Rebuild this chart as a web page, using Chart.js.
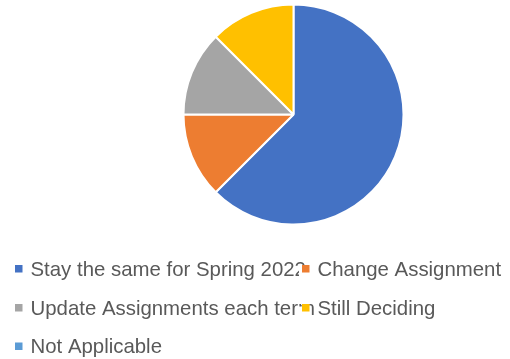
<!DOCTYPE html>
<html>
<head>
<meta charset="utf-8">
<script src="https://cdn.jsdelivr.net/npm/chart.js@4/dist/chart.umd.min.js"></script>
<style>
html,body{margin:0;padding:0;background:#fff;}
#wrap{position:relative;width:510px;height:359px;}
</style>
</head>
<body>
<div id="wrap"><canvas id="c" width="510" height="359"></canvas></div>
<script>
const categories = ["Stay the same for Spring 2022", "Change Assignment", "Update Assignments each term", "Still Deciding", "Not Applicable"];
const values = [5, 1, 1, 1, 0];
const colors = ["#4472C4", "#ED7D31", "#A5A5A5", "#FFC000", "#5B9BD5"];

const legendPlugin = {
  id: 'excelLegend',
  afterDraw(chart) {
    const ctx = chart.ctx;
    const labels = chart.data.labels;
    const cols = chart.data.datasets[0].backgroundColor;
    const colX = [15, 302];
    const textOff = 15.5;
    const rowY = [269, 308, 346.5];
    ctx.save();
    ctx.font = '20.4px "Liberation Sans", Arial, sans-serif';
    ctx.textBaseline = 'middle';
    labels.forEach((lab, i) => {
      const c = i % 2, r = Math.floor(i / 2);
      const bx = colX[c], by = rowY[r];
      if (c === 1) {
        ctx.fillStyle = '#fff';
        ctx.fillRect(bx - 3, by - 1.5, 12, 13);
      }
      ctx.fillStyle = cols[i];
      ctx.fillRect(bx, by - 4, 7.5, 7.5);
      ctx.fillStyle = '#595959';
      ctx.fillText(lab, bx + textOff, by + 1);
    });
    ctx.restore();
  }
};

new Chart(document.getElementById('c'), {
  type: 'pie',
  data: {
    labels: categories,
    datasets: [{
      data: values,
      backgroundColor: colors,
      borderColor: '#ffffff',
      borderWidth: 2,
      hoverOffset: 0
    }]
  },
  options: {
    responsive: false,
    animation: false,
    radius: 110,
    layout: { padding: { left: 77, right: 0, top: 0, bottom: 130 } },
    plugins: { legend: { display: false }, tooltip: { enabled: false } }
  },
  plugins: [legendPlugin]
});
</script>
</body>
</html>
